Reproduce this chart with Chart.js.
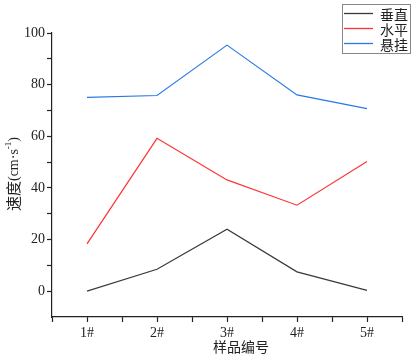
<!DOCTYPE html>
<html>
<head>
<meta charset="utf-8">
<script src="https://cdn.jsdelivr.net/npm/chart.js@4"></script>
<style>
  html, body { margin: 0; padding: 0; background: #fff; }
  #wrap { width: 415px; height: 359px; position: relative; }
</style>
</head>
<body>
<div id="wrap"><canvas id="speedChart"></canvas></div>
<script>
// Samples and measured speeds
const categories = ["1#", "2#", "3#", "4#", "5#"];
const verticalSpeed = [0, 8.5, 24, 7.5, 0.3];
const horizontalSpeed = [18.3, 59.2, 43.1, 33.3, 50.2];
const hangingSpeed = [75.1, 75.8, 95.3, 76, 70.7];
const seriesNames = ["垂直", "水平", "悬挂"];
const seriesColors = ["#3a3a3a", "#ff3333", "#2a78e6"];

const serif = "'Liberation Serif', 'Noto Sans CJK SC', serif";
const cjk = "'Noto Sans CJK SC', 'Liberation Serif', serif";

function toPoints(values) {
  return values.map((v, i) => ({ x: i + 1, y: v }));
}

const seriesValues = [verticalSpeed, horizontalSpeed, hangingSpeed];

const datasets = seriesValues.map((vals, i) => ({
  label: seriesNames[i],
  data: toPoints(vals),
  borderColor: seriesColors[i],
  backgroundColor: seriesColors[i],
  borderWidth: 1.2,
  pointRadius: 0,
  tension: 0,
  fill: false,
}));

// legend box + axis titles drawn by hand
const extras = {
  id: "extras",
  afterDraw(chart) {
    const ctx = chart.ctx;
    ctx.save();
    // legend
    ctx.strokeStyle = "#888";
    ctx.lineWidth = 1;
    ctx.strokeRect(342.5, 4.5, 68, 49);
    ctx.font = "14px " + cjk;
    ctx.textBaseline = "middle";
    ctx.textAlign = "left";
    seriesNames.forEach((name, i) => {
      const y = 13.5 + i * 15;
      ctx.strokeStyle = seriesColors[i];
      ctx.lineWidth = 1.3;
      ctx.beginPath();
      ctx.moveTo(344, y);
      ctx.lineTo(373, y);
      ctx.stroke();
      ctx.fillStyle = "#222";
      ctx.fillText(name, 380, y + 1);
    });

    // x title
    ctx.font = "14px " + cjk;
    ctx.textAlign = "center";
    ctx.textBaseline = "middle";
    ctx.fillStyle = "#222";
    ctx.fillText("样品编号", 241, 347);

    // y title, rotated, with superscript
    ctx.translate(13, 174);
    ctx.rotate(-Math.PI / 2);
    ctx.textAlign = "left";
    const mainFont = "15px " + cjk;
    const part1 = "速度";
    const part2 = "(cm·s";
    const sup = "-1";
    const part3 = ")";
    ctx.font = mainFont;
    const w1 = ctx.measureText(part1).width;
    ctx.font = "14px " + serif;
    const w2 = ctx.measureText(part2).width;
    ctx.font = "9px " + serif;
    const w3 = ctx.measureText(sup).width;
    ctx.font = "14px " + serif;
    const w4 = ctx.measureText(part3).width;
    let x = -(w1 + w2 + w3 + w4) / 2;
    ctx.font = mainFont;
    ctx.fillText(part1, x, 0);
    x += w1;
    ctx.font = "14px " + serif;
    ctx.fillText(part2, x, 1);
    x += w2;
    ctx.font = "9px " + serif;
    ctx.fillText(sup, x, -4);
    x += w3;
    ctx.font = "14px " + serif;
    ctx.fillText(part3, x, 1);
    ctx.restore();
  },
};

new Chart(document.getElementById("speedChart"), {
  type: "line",
  data: { datasets },
  options: {
    responsive: true,
    maintainAspectRatio: false,
    animation: false,
    layout: { padding: { top: 33, right: 13, left: 0, bottom: 0 } },
    plugins: {
      legend: { display: false },
      tooltip: { enabled: false },
    },
    scales: {
      x: {
        type: "linear",
        min: 0.5,
        max: 5.5,
        afterFit(scale) { scale.height = 42; },
        afterBuildTicks(scale) {
          const t = [];
          for (let v = 0.5; v <= 5.5; v += 0.5) t.push({ value: v });
          scale.ticks = t;
        },
        border: { display: true, color: "#222", width: 1.2 },
        grid: {
          drawOnChartArea: false,
          drawTicks: true,
          tickLength: 5,
          color: "#222",
          tickWidth: 1.2,
        },
        ticks: {
          autoSkip: false,
          maxRotation: 0,
          padding: 3,
          color: "#222",
          font: { family: serif, size: 14 },
          callback(v) {
            return Number.isInteger(v) ? categories[v - 1] : "";
          },
        },
      },
      y: {
        type: "linear",
        min: -10,
        max: 100,
        afterFit(scale) { scale.width = 52; },
        afterBuildTicks(scale) {
          const t = [];
          for (let v = 0; v <= 100; v += 10) t.push({ value: v });
          scale.ticks = t;
        },
        border: { display: true, color: "#222", width: 1.2 },
        grid: {
          drawOnChartArea: false,
          drawTicks: true,
          tickLength: 5,
          color: "#222",
          tickWidth: 1.2,
        },
        ticks: {
          autoSkip: false,
          padding: 2,
          color: "#222",
          font: { family: serif, size: 14 },
          callback(v) {
            return v % 20 === 0 ? String(v) : "";
          },
        },
      },
    },
  },
  plugins: [extras],
});
</script>
</body>
</html>
